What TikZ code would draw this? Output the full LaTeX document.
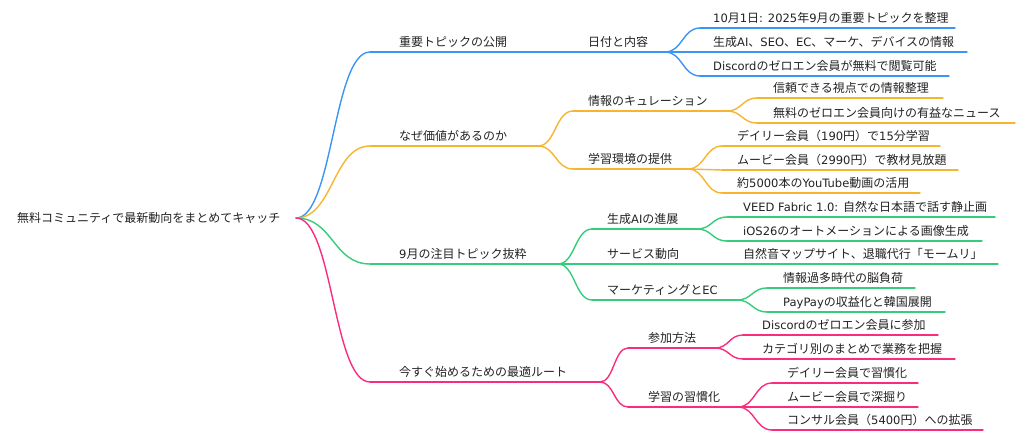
\documentclass[tikz,border=0pt]{standalone}
\usepackage{fontspec}
\setmainfont{Noto Sans CJK JP}
\newfontfamily\latinfont{DejaVu Sans}[Scale=0.96]
\newcommand\lat[1]{{\latinfont #1}}
\usetikzlibrary{calc}
\definecolor{cblue}{HTML}{3A96F2}
\definecolor{corange}{HTML}{F6B530}
\definecolor{cgreen}{HTML}{36CC7C}
\definecolor{cpink}{HTML}{FA2C7C}
\definecolor{ctext}{HTML}{222222}
\tikzset{
  mline/.style={line width=1.4pt, line cap=round},
  lbl/.style={anchor=base west, inner sep=0pt, font=\fontsize{12}{14}\selectfont, text=ctext}
}
\newcommand\mnode[7]{%
  \coordinate (#1-s) at (#3,#5);
  \coordinate (#1-e) at (#4,#5);
  \node[lbl] (#1) at (#6,{#5-5.5}) {#7};
  \draw[mline,#2] (#1-s) -- (#1-e);
}
\newcommand\mlink[3]{%
  \draw[mline,#1] let \p1=(#2), \p2=(#3) in (\p1) .. controls ({(\x1+\x2)/2},\y1) and ({(\x1+\x2)/2},\y2) .. (\p2);
}
\begin{document}
\begin{tikzpicture}[x=1pt,y=-1pt]
\useasboundingbox (0,0) rectangle (1024,438);
\node[lbl, anchor=west] (root) at (17,218) {無料コミュニティで最新動向をまとめてキャッチ};
\coordinate (root-e) at (296,218);
% blue
\mnode{b}{cblue}{370}{560}{52}{399}{重要トピックの公開}
\mnode{b1}{cblue}{560}{665}{52}{588}{日付と内容}
\mnode{b11}{cblue}{700}{955}{28}{713}{\lat{10}月\lat{1}日\lat{: 2025}年\lat{9}月の重要トピックを整理}
\mnode{b12}{cblue}{700}{967}{52}{713}{生成\lat{AI}、\lat{SEO}、\lat{EC}、マーケ、デバイスの情報}
\mnode{b13}{cblue}{700}{949}{76}{713}{\lat{Discord}のゼロエン会員が無料で閲覧可能}
\mlink{cblue}{root-e}{b-s}
\mlink{cblue}{b-e}{b1-s}
\mlink{cblue}{b1-e}{b11-s}
\mlink{cblue}{b1-e}{b12-s}
\mlink{cblue}{b1-e}{b13-s}
% orange
\mnode{o}{corange}{370}{538}{146}{399}{なぜ価値があるのか}
\mnode{o1}{corange}{573}{727}{111}{588}{情報のキュレーション}
\mnode{o2}{corange}{573}{688}{169}{588}{学習環境の提供}
\mnode{o11}{corange}{757}{943}{98}{773}{信頼できる視点での情報整理}
\mnode{o12}{corange}{757}{1015}{123}{773}{無料のゼロエン会員向けの有益なニュース}
\mnode{o21}{corange}{722}{940}{146}{737}{デイリー会員（\lat{190}円）で\lat{15}分学習}
\mnode{o22}{corange}{722}{958}{170}{737}{ムービー会員（\lat{2990}円）で教材見放題}
\mnode{o23}{corange}{722}{920}{193}{737}{約\lat{5000}本の\lat{YouTube}動画の活用}
\mlink{corange}{root-e}{o-s}
\mlink{corange}{o-e}{o1-s}
\mlink{corange}{o-e}{o2-s}
\mlink{corange}{o1-e}{o11-s}
\mlink{corange}{o1-e}{o12-s}
\mlink{corange}{o2-e}{o21-s}
\mlink{corange}{o2-e}{o22-s}
\mlink{corange}{o2-e}{o23-s}
% green
\mnode{g}{cgreen}{370}{558}{264}{399}{\lat{9}月の注目トピック抜粋}
\mnode{g1}{cgreen}{592}{697}{229}{607}{生成\lat{AI}の進展}
\mnode{g2}{cgreen}{592}{697}{264}{607}{サービス動向}
\mnode{g3}{cgreen}{592}{737}{300}{607}{マーケティングと\lat{EC}}
\mnode{g11}{cgreen}{727}{995}{217}{743}{\lat{VEED Fabric 1.0: }自然な日本語で話す静止画}
\mnode{g12}{cgreen}{727}{982}{241}{743}{\lat{iOS26}のオートメーションによる画像生成}
\mnode{g21}{cgreen}{727}{998}{264}{743}{自然音マップサイト、退職代行「モームリ」}
\mnode{g31}{cgreen}{767}{915}{288}{783}{情報過多時代の脳負荷}
\mnode{g32}{cgreen}{767}{945}{312}{783}{\lat{PayPay}の収益化と韓国展開}
\mlink{cgreen}{root-e}{g-s}
\mlink{cgreen}{g-e}{g1-s}
\mlink{cgreen}{g-e}{g2-s}
\mlink{cgreen}{g-e}{g3-s}
\mlink{cgreen}{g1-e}{g11-s}
\mlink{cgreen}{g1-e}{g12-s}
\mlink{cgreen}{g2-e}{g21-s}
\mlink{cgreen}{g3-e}{g31-s}
\mlink{cgreen}{g3-e}{g32-s}
% pink
\mnode{p}{cpink}{370}{600}{382}{399}{今すぐ始めるための最適ルート}
\mnode{p1}{cpink}{628}{715}{348}{648}{参加方法}
\mnode{p2}{cpink}{628}{738}{407}{648}{学習の習慣化}
\mnode{p11}{cpink}{743}{938}{335}{762}{\lat{Discord}のゼロエン会員に参加}
\mnode{p12}{cpink}{743}{955}{359}{762}{カテゴリ別のまとめで業務を把握}
\mnode{p21}{cpink}{772}{918}{383}{787}{デイリー会員で習慣化}
\mnode{p22}{cpink}{772}{918}{407}{787}{ムービー会員で深掘り}
\mnode{p23}{cpink}{772}{983}{430}{787}{コンサル会員（\lat{5400}円）への拡張}
\mlink{cpink}{root-e}{p-s}
\mlink{cpink}{p-e}{p1-s}
\mlink{cpink}{p-e}{p2-s}
\mlink{cpink}{p1-e}{p11-s}
\mlink{cpink}{p1-e}{p12-s}
\mlink{cpink}{p2-e}{p21-s}
\mlink{cpink}{p2-e}{p22-s}
\mlink{cpink}{p2-e}{p23-s}
\end{tikzpicture}
\end{document}
